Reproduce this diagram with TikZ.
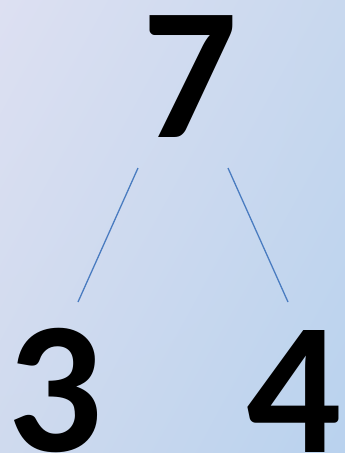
\documentclass[tikz,border=0pt]{standalone}
\usepackage{fontspec}
\setmainfont{Carlito}
\usepackage{xcolor}
\usepackage{tikz}
\usetikzlibrary{positioning,shadings}
\definecolor{bgTopLeft}{HTML}{DDE0F2}
\definecolor{bgTopRight}{HTML}{C8D8EE}
\definecolor{bgBottomLeft}{HTML}{CFDAEE}
\definecolor{bgBottomRight}{HTML}{B9D2EE}
\definecolor{lineBlue}{HTML}{4A7CC0}
\tikzset{
  digit/.style={
    inner sep=0pt,
    anchor=base,
    text=black,
    text height=0.64em,
    text depth=0pt,
    font=\fontsize{188}{192}\selectfont\bfseries
  },
  branch/.style={draw=lineBlue, line width=1.3pt}
}

\begin{document}
\begin{tikzpicture}[x=1pt, y=-1pt]
  \shade[upper left=bgTopLeft, upper right=bgTopRight,
         lower left=bgBottomLeft, lower right=bgBottomRight]
    (0,0) rectangle (345,453);
  \useasboundingbox (0,0) rectangle (345,453);

  \node[digit] (seven) at (190,137) {7};
  \node[digit] (three) at (55,451) {3};
  \node[digit] (four) at (294,452) {4};

  \coordinate (leftTop) at (138,168);
  \coordinate (leftBottom) at (78,302);
  \coordinate (rightTop) at (228,168);
  \coordinate (rightBottom) at (288,302);

  \draw[branch] (leftTop) -- (leftBottom);
  \draw[branch] (rightTop) -- (rightBottom);
\end{tikzpicture}
\end{document}
